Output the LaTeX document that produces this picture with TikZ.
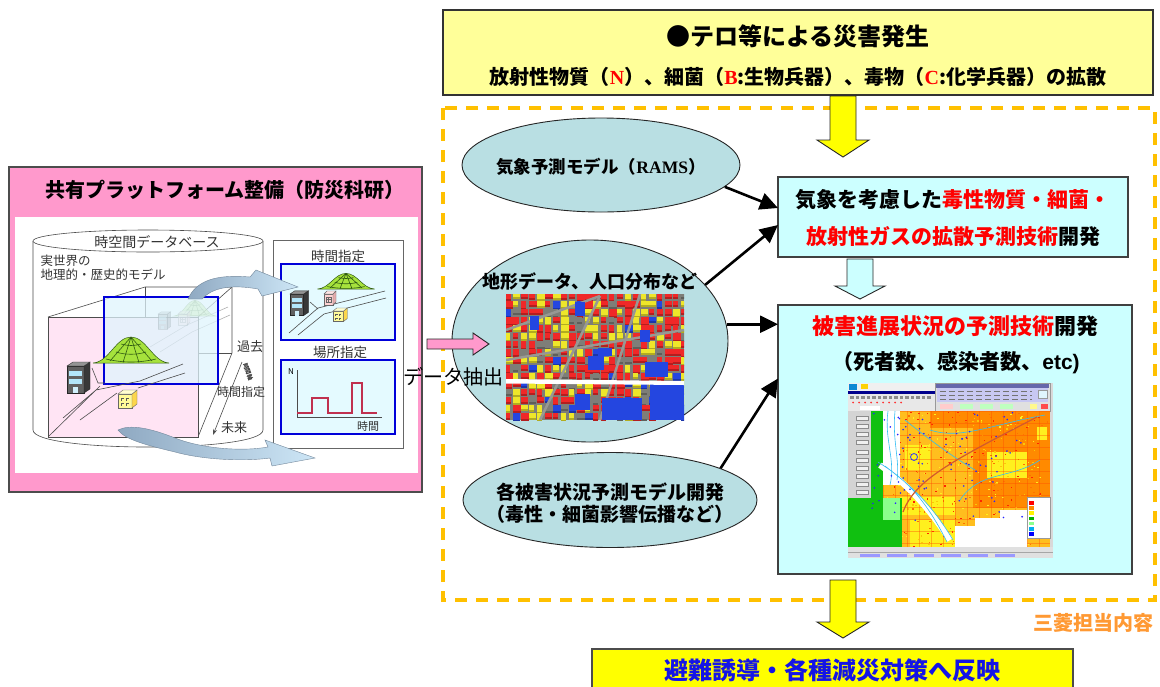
\documentclass[tikz,border=0pt]{standalone}
\usepackage{fontspec}
\setmainfont{Noto Sans CJK JP}
\newfontfamily\Lserif{Liberation Serif}
\newfontfamily\Lsans{Liberation Sans}
\usetikzlibrary{shapes.geometric,arrows.meta,calc}

\definecolor{boxyellow}{HTML}{FFFF99}
\definecolor{dashorange}{HTML}{FFC000}
\definecolor{ellfill}{HTML}{B9DFE3}
\definecolor{boxcyan}{HTML}{CCFFFF}
\definecolor{pinkpanel}{HTML}{FF99CC}
\definecolor{labelorange}{HTML}{FF9933}
\definecolor{arrowyellow}{HTML}{FFFF00}
\definecolor{finalblue}{HTML}{1414E6}
\definecolor{redtxt}{HTML}{FF0000}
\definecolor{cubepink}{HTML}{FFE4F4}
\definecolor{hillgreen}{HTML}{A6E23C}
\definecolor{hillline}{HTML}{2F5A12}
\definecolor{viewfill}{HTML}{E4FAFF}
\definecolor{swooshdark}{HTML}{8FA9C2}
\definecolor{swooshlight}{HTML}{CDE6F6}
\definecolor{pulse}{HTML}{C0304F}
\definecolor{cityred}{HTML}{F02828}
\definecolor{cityyellow}{HTML}{EEE62A}
\definecolor{cityblue}{HTML}{2446E0}
\definecolor{citygray}{HTML}{7E7E78}
\definecolor{mapgold}{HTML}{FFBE1E}
\definecolor{mapdark}{HTML}{FF8A00}
\definecolor{mapyellow}{HTML}{FFF01E}
\definecolor{mapgreen}{HTML}{10C010}
\definecolor{lavender}{HTML}{C8C8F2}

\newcommand\fsz[1]{\fontsize{#1}{#1}\selectfont}
\newcommand\hl[1]{\textcolor{redtxt}{#1}}

\tikzset{
  panel/.style={anchor=north west, inner sep=0pt, outer sep=0pt},
  topbox/.style={panel, draw=black!80, line width=1.2pt, fill=boxyellow},
  cyanbox/.style={panel, draw=black!75, line width=1.3pt, fill=boxcyan},
  ellnode/.style={ellipse, draw=black!85, line width=0.9pt, fill=ellfill, inner sep=0pt},
  conn/.style={draw=black, line width=2.6pt, -{Triangle[length=18pt,width=17pt]}},
  blockarrow/.style={draw=black!85, line width=0.9pt, line join=miter},
  dashframe/.style={draw=dashorange, line width=3.5pt, dash pattern=on 12pt off 9pt},
  thinline/.style={draw=black!70, line width=0.6pt},
  viewbox/.style={panel, draw=blue!85!black, line width=1.5pt, fill=viewfill},
  hill/.pic={
    \path[fill=hillgreen, draw=hillline, line width=0.5pt]
      (-38,0) .. controls (-22,-1) and (-15,-26) .. (0,-26)
      .. controls (15,-26) and (22,-1) .. (38,0) -- cycle;
    \draw[hillline, line width=0.6pt]
      (0,-26) -- (-21,-2) (0,-26) -- (-8,-0.5) (0,-26) -- (8,-0.5) (0,-26) -- (21,-2)
      (-10,-19) .. controls (-4,-17) and (4,-17) .. (10,-19)
      (-15,-11) .. controls (-6,-8) and (6,-8) .. (15,-11)
      (-25,-4) .. controls (-8,0) and (8,0) .. (25,-4);
  },
  building/.pic={
    \draw[black!85, fill=black!62] (0,0) rectangle (17,27);
    \draw[black!85, fill=black!78] (17,0) -- (23,-4) -- (23,23) -- (17,27) -- cycle;
    \draw[black!85, fill=black!42] (0,0) -- (6,-4) -- (23,-4) -- (17,0) -- cycle;
    \fill[cyan!30] (2,5) rectangle (15,10);
    \fill[cyan!30] (2,13) rectangle (15,18);
    \fill[cyan!18] (6,21) rectangle (11,27);
  },
  smallcube/.pic={
    \draw[black!60, fill=yellow!40] (0,0) rectangle (14,14);
    \draw[black!60, fill=yellow!60!orange!70] (14,0) -- (19,-4) -- (19,10) -- (14,14) -- cycle;
    \draw[black!60, fill=yellow!18] (0,0) -- (5,-4) -- (19,-4) -- (14,0) -- cycle;
    \draw[black!65, line width=0.5pt] (3,4) -- (6,4) (8,4) -- (11,4) (3,4) -- (3,7) (8,4) -- (8,7)
      (3,9) -- (6,9) (8,9) -- (11,9) (3,9) -- (3,12) (8,9) -- (8,12);
  },
  pinkhouse/.pic={
    \draw[black!60, fill=pink!70] (0,0) rectangle (9,11);
    \draw[black!60, fill=pink!90!black] (9,0) -- (12,-3) -- (12,8) -- (9,11) -- cycle;
    \draw[black!60, fill=pink!40] (0,0) -- (3,-3) -- (12,-3) -- (9,0) -- cycle;
    \draw[black!60, line width=0.4pt] (2,3) rectangle (7,8) (4.5,3) -- (4.5,8) (2,5.5) -- (7,5.5);
  }
}

\begin{document}
\begin{tikzpicture}[x=1pt,y=-1pt]
\useasboundingbox (0,0) rectangle (1160,686);
\clip (0,0) rectangle (1160,686);
\fill[white] (0,0) rectangle (1160,686);

% ---------- dashed frame of the modelling work ----------
\draw[dashframe] (443,108) rectangle (1155,600);

% ---------- disaster outbreak box ----------
\node[topbox, minimum width=710pt, minimum height=85pt] (outbreak) at (443,10) {};
\node[font=\fsz{24}\bfseries] (outbreaktitle) at (798,36) {●テロ等による災害発生};
\node[font=\fsz{20}\bfseries] (outbreaksub) at (798,77)
  {放射性物質（\hl{\Lserif\bfseries N}）、細菌（\hl{\Lserif\bfseries B}:生物兵器）、毒物（\hl{\Lserif\bfseries C}:化学兵器）の拡散};

% yellow block arrow into the frame
\draw[blockarrow, fill=arrowyellow] (830,96) -- (856,96) -- (856,140) -- (869,140) -- (843,157)
  -- (817,140) -- (830,140) -- cycle;

% ---------- input models ----------
\node[ellnode, minimum width=278pt, minimum height=94pt] (rams) at (601,165) {};
\node[font=\fsz{17.5}\bfseries] (ramslabel) at (601,167) {気象予測モデル（{\Lserif\bfseries RAMS}）};

\node[ellnode, minimum width=276pt, minimum height=202pt] (terrain) at (590,341) {};
\node[font=\fsz{18}\bfseries] (terrainlabel) at (590,282) {地形データ、人口分布など};

\node[ellnode, minimum width=294pt, minimum height=95pt] (models) at (610,500) {};
\node[font=\fsz{19}\bfseries, align=center] (modelslabel) at (610,503)
  {各被害状況予測モデル開発\\[3pt]（毒性・細菌影響伝播など）};

% city blocks picture inside the terrain ellipse
\begin{scope}
  \clip (506,294) rectangle (684,420);
  \fill[citygray] (506,294) rectangle (684,420);
  \pgfmathsetseed{4}
  \foreach \i in {0,...,22}{
    \foreach \j in {0,...,15}{
      \pgfmathrandominteger{\cc}{1}{20}
      \pgfmathrandominteger{\ww}{5}{8}
      \pgfmathrandominteger{\hh}{4}{7}
      \ifnum\cc<12 \def\bc{cityred}\else\ifnum\cc<18 \def\bc{cityyellow}\else\ifnum\cc<19 \def\bc{cityblue}\else\def\bc{citygray}\fi\fi\fi
      \fill[\bc] (505+\i*8,293+\j*8) rectangle ++(\ww,\hh);
      \fill[\bc!75!black] (505+\i*8,293+\j*8+\hh) rectangle ++(\ww,1.5);
    }
  }
  \draw[citygray!80!white, line width=2.5pt] (506,330) -- (600,296) (540,420) -- (600,296)
    (600,420) -- (640,294) (506,360) -- (684,330);
  \fill[cityblue] (602,398) rectangle (642,420);
  \fill[cityblue] (650,384) rectangle (684,420);
  \fill[cityblue] (645,362) rectangle (668,377);
  \fill[cityblue] (588,356) rectangle (604,370);
  \fill[cityblue] (575,302) rectangle (585,316);
  \fill[cityblue] (640,330) rectangle (650,342);
  \fill[cityblue] (530,316) rectangle (539,330);
  \fill[cityblue] (575,394) rectangle (590,410);
  \fill[cityblue] (598,348) rectangle (612,356);
  \fill[white] (506,379) -- (684,381) -- (684,385) -- (506,383.5) -- cycle;
\end{scope}

% ---------- development targets ----------
\node[cyanbox, minimum width=350pt, minimum height=80pt] (diffusion) at (778,177) {};
\node[font=\fsz{21}\bfseries] (diffusion1) at (953,200) {気象を考慮した\hl{毒性物質・細菌・}};
\node[font=\fsz{21}\bfseries] (diffusion2) at (953,237) {\hl{放射性ガスの拡散予測技術}開発};

\draw[blockarrow, fill=boxcyan] (847,259) -- (873,259) -- (873,286) -- (885,286) -- (860,299)
  -- (835,286) -- (847,286) -- cycle;

\node[cyanbox, minimum width=354pt, minimum height=269pt] (damage) at (778,305) {};
\node[font=\fsz{22}\bfseries] (damage1) at (955,326) {\hl{被害進展状況の予測技術}開発};
\node[font=\fsz{21}\bfseries] (damage2) at (956,363) {（死者数、感染者数、{\Lsans\bfseries etc)}};

% simulation screen inside the damage box
\begin{scope}
  \clip (848,383) rectangle (1053,558);
  \fill[black!15] (848,383) rectangle (1053,558);
  \fill[black!6] (848,383) rectangle (935,391);
  \fill[cyan!70!blue] (849,384) rectangle (857,390);
  \fill[yellow!70!orange] (861,384) rectangle (868,389);
  \fill[blue!55!black] (848,391) rectangle (935,394);
  \fill[black!9] (848,394) rectangle (935,411);
  \foreach \k in {0,...,14} \fill[black!45] (850+\k*5.5,396) rectangle ++(3.5,3);
  \foreach \k in {0,...,8} \fill[red!80] (853+\k*6,402.5) circle (1);
  \fill[white] (860,405.5) rectangle (880,409.5);
  \draw[black!40, fill=black!12] (935,383) rectangle (1050,411);
  \fill[blue!45!black!60] (936,384) rectangle (1049,387.5);
  \fill[lavender] (937,388) rectangle (1048,402);
  \draw[black!40, fill=cyan!12] (1038,390) rectangle (1047,398);
  \foreach \r in {391,395,399} \draw[black!55, line width=0.6pt, dash pattern=on 6pt off 3pt] (940,\r) -- (1032,\r);
  \fill[pink!80] (940,403.5) rectangle (953,408.5);
  \fill[green!25] (960,403.5) rectangle (973,408.5);
  \fill[green!25] (980,403.5) rectangle (993,408.5);
  \fill[green!25] (1000,403.5) rectangle (1013,408.5);
  \fill[yellow!45] (1030,403.5) rectangle (1037,408.5);
  \fill[red!70] (1041,403.5) rectangle (1048,408.5);
  \fill[black!17] (848,411) rectangle (871,498);
  \foreach \r in {416,424,432,440,450,458,466,474,482,490} \draw[black!45, fill=black!6] (856,\r) rectangle ++(12,4);
  % map
  \fill[mapgold] (871,411) rectangle (1050,547);
  \fill[mapdark] (973,411) rectangle (1050,508);
  \fill[mapdark] (930,411) rectangle (973,428);
  \fill[mapyellow] (987,452) rectangle (1027,478);
  \fill[mapyellow] (1037,427) rectangle (1047,440);
  \fill[mapyellow] (905,445) rectangle (930,470);
  \fill[mapyellow] (900,497) rectangle (955,515);
  \fill[mapyellow] (910,520) rectangle (955,547);
  % fine texture of land use
  \pgfmathsetseed{23}
  \foreach \k in {1,...,420}{
    \pgfmathsetmacro\px{883+165*rnd}
    \pgfmathsetmacro\py{412+134*rnd}
    \pgfmathrandominteger{\cc}{1}{4}
    \ifnum\cc=1 \def\bc{red!70!orange}\else\ifnum\cc=2 \def\bc{mapyellow}\else\ifnum\cc=3 \def\bc{orange!90!red}\else\def\bc{yellow!60!orange}\fi\fi\fi
    \fill[\bc] (\px,\py) rectangle ++(1.6,1.2);
  }
  \foreach \k in {0,...,14} \draw[orange!60!red, line width=0.2pt, opacity=0.4] (871+\k*12,411) -- (871+\k*12,547);
  \foreach \k in {0,...,11} \draw[orange!60!red, line width=0.2pt, opacity=0.4] (871,411+\k*12) -- (1050,411+\k*12);
  \fill[mapgreen] (871,411) rectangle (883,500);
  \fill[mapgreen] (848,498) rectangle (902,547);
  \fill[green!45] (883,498) rectangle (900,520);
  \fill[white] (883,411) rectangle (900,485);
  \fill[white] (955,547) -- (955,526) -- (975,526) -- (975,518) -- (1000,518) -- (1000,510)
    -- (1027,510) -- (1027,547) -- cycle;
  \draw[white, line width=6pt] (880,465) .. controls (900,480) and (920,495) .. (950,540);
  \draw[cyan!80, line width=0.6pt] (888,411) .. controls (884,440) and (896,460) .. (890,485)
    (895,411) .. controls (892,440) and (900,460) .. (897,480)
    (878,462) .. controls (900,476) and (922,492) .. (947,542)
    (885,466) .. controls (905,482) and (928,498) .. (953,540)
    (930,430) .. controls (960,440) and (990,425) .. (1045,415)
    (960,500) .. controls (980,470) and (1010,480) .. (1040,460)
    (905,420) .. controls (930,440) and (950,455) .. (975,470);
  \pgfmathsetseed{11}
  \foreach \k in {1,...,80}{
    \pgfmathsetmacro\px{872+154*rnd}
    \pgfmathsetmacro\py{412+110*rnd}
    \fill[blue!85] (\px,\py) circle (0.9);
  }
  \draw[blue!80, line width=0.8pt] (914,457) circle (3.5);
  \draw[brown!70!red, line width=1.2pt] (903,512) .. controls (915,480) and (950,462) .. (1037,417);
  \draw[black!40, fill=white] (1027,497) rectangle (1050,538);
  \foreach \k/\c in {0/red,1/mapdark,2/yellow,3/green!70!black,4/green!45,5/cyan,6/blue}
    \fill[\c] (1029,501+\k*5.2) rectangle ++(5,3.5);
  \fill[black!12] (848,547) rectangle (1053,558);
  \draw[black!35, line width=0.4pt] (848,552) -- (1053,552);
  \foreach \k in {0,...,5} \fill[blue!40] (860+\k*27,554) rectangle ++(20,3);
\end{scope}

% ---------- connectors ----------
\draw[conn] (rams.-10) -- ($(diffusion.west)+(0,-9)$);
\draw[conn] (terrain.26) -- ($(diffusion.west)+(0,8)$);
\draw[conn] (terrain.7) -- (terrain.7 -| damage.west);
\draw[conn] (models.16.5) -- ($(damage.west)+(0,-61)$);

% ---------- shared platform panel ----------
\node[panel, draw=black!70, line width=1.2pt, fill=pinkpanel, minimum width=413pt, minimum height=325pt] (platform) at (9,167) {};
\node[font=\fsz{20}\bfseries] (platformtitle) at (225,190) {共有プラットフォーム整備（防災科研）};
\node[panel, fill=white, minimum width=403pt, minimum height=256pt] (platformbody) at (15,217) {};

% spatio-temporal database cylinder
\draw[thinline, fill=white] (33,241) -- (33,430) .. controls (33,452.7) and (263,452.7) .. (263,430) -- (263,241);
\draw[thinline, fill=white] (148,241) ellipse [x radius=115, y radius=11];
\node[font=\fsz{14}, text=black!80] (dblabel) at (157,242) {時空間データベース};
\node[font=\fsz{12.5}, text=black!80, anchor=west] (realworld1) at (37,261) {実世界の};
\node[font=\fsz{12.5}, text=black!80, anchor=west] (realworld2) at (37,275) {地理的・歴史的モデル};

% space-time block
\draw[thinline] (48,317) -- (145,287) -- (232,287) -- (232,353) -- (198,437);
\draw[thinline] (145,287) -- (145,353) -- (232,353);
\draw[thinline] (198,317) -- (232,287);
\draw[thinline, fill=cubepink] (48,317) rectangle (198,437);
\begin{scope}[opacity=0.45]
  \pic[xscale=0.55, yscale=0.6] at (195,316) {hill};
  \pic[scale=0.55] at (158,314) {building};
  \pic at (178,314) {pinkhouse};
  \draw[thinline] (150,347) -- (187,325) -- (228,307) (160,352) -- (192,332) -- (230,315);
\end{scope}
\draw[draw=blue!85!black, line width=1.5pt, fill=cyan!12, fill opacity=0.75] (104,297) rectangle (218,384);
\draw[thinline] (49,436) -- (100,386) (63,418) -- (96,390) -- (140,381) -- (183,364)
  (80,420) -- (117,393) (138,388) -- (185,373) (92,368) -- (98,383) -- (105,383);
\pic at (131,363) {hill};
\pic at (67,366) {building};
\pic at (118,394) {smallcube};

% time axis
\draw[thinline, -{Stealth[length=6pt,width=4pt]}] (242,362) -- (213,435);
\node[font=\fsz{13}, text=black!80] (pastlabel) at (250,347) {過去};
\node[font=\fsz{6}\bfseries, text=black!80, rotate=-70, inner sep=0pt] (axislabel) at (248,372) {時間軸};
\node[font=\fsz{12}, text=black!80] (timepick) at (241,392) {時間指定};
\node[font=\fsz{13}, text=black!80] (futurelabel) at (234,428) {未来};

% extracted views
\node[panel, draw=black!60, fill=white, minimum width=130pt, minimum height=208pt] (views) at (273,240) {};
\node[font=\fsz{13.5}, text=black!80] (timeviewlabel) at (338,256) {時間指定};
\node[viewbox, minimum width=114pt, minimum height=76pt] (timeview) at (281,264) {};
\pic[xscale=0.75, yscale=0.6] at (346,289) {hill};
\draw[thinline] (289,333) -- (318,308) -- (350,300) -- (385,291)
  (298,335) -- (324,314) -- (355,306) -- (386,298) (310,302) -- (318,309);
\pic[scale=0.8] at (290,294) {building};
\pic at (324,294) {pinkhouse};
\pic[scale=0.75] at (333,311) {smallcube};

\node[font=\fsz{13.5}, text=black!80] (placeviewlabel) at (340,352) {場所指定};
\node[viewbox, minimum width=114pt, minimum height=74pt] (placeview) at (281,360) {};
\draw[black!70, line width=0.6pt] (297,370) -- (297,417) -- (382,417);
\node[font=\fsz{8}\itshape] (nlabel) at (291,372) {N};
\draw[pulse, line width=1.8pt, line join=miter] (297,413) -- (312,413) -- (312,398) -- (328,398) -- (328,413)
  -- (352,413) -- (352,383) -- (362,383) -- (362,413) -- (377,413);
\node[font=\fsz{11}, text=black!80] (timeaxislabel) at (368,426) {時間};

% sweeping arrows from the database to the views
\shade[left color=swooshdark, right color=swooshlight, draw=swooshdark!80!black, line width=0.4pt]
  (188,299) .. controls (196,281) and (215,274) .. (250,277) -- (256,270) -- (298,287) -- (262,296)
  -- (258,289) .. controls (230,284) and (212,288) .. (202,299) -- cycle;
\shade[left color=swooshdark, right color=swooshlight, draw=swooshdark!80!black, line width=0.4pt]
  (118,430) .. controls (130,424) and (150,428) .. (175,438) .. controls (200,448) and (240,452) .. (268,447)
  -- (265,440) -- (315,458) -- (272,466) -- (270,458) .. controls (240,462) and (200,459) .. (175,452)
  .. controls (150,446) and (125,440) .. (118,430) -- cycle;

% data extraction arrow
\draw[blockarrow, fill=pinkpanel] (427,339) -- (473,339) -- (473,333) -- (489,344) -- (473,355)
  -- (473,349) -- (427,349) -- cycle;
\node[font=\fsz{20}] (extract) at (453,377) {データ抽出};

% ---------- outcome ----------
\draw[blockarrow, fill=arrowyellow] (830,580) -- (856,580) -- (856,622) -- (869,622) -- (843,638)
  -- (817,622) -- (830,622) -- cycle;
\node[font=\fsz{20}\bfseries, text=labelorange, anchor=east] (scope) at (1157,623) {三菱担当内容};
\node[panel, draw=black!70, line width=1.5pt, fill=arrowyellow, minimum width=481pt, minimum height=60pt] (measures) at (592,649) {};
\node[font=\fsz{24}\bfseries, text=finalblue] (measureslabel) at (832,670) {避難誘導・各種減災対策へ反映};
\end{tikzpicture}
\end{document}
